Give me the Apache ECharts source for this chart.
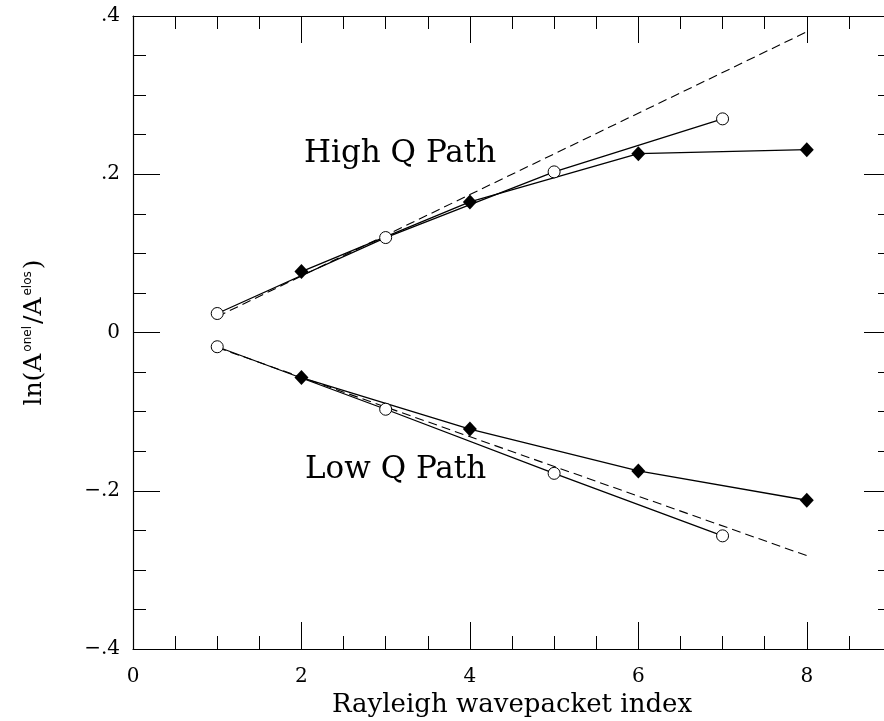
<!DOCTYPE html>
<html>
<head>
<meta charset="utf-8">
<script src="https://cdn.jsdelivr.net/npm/echarts@6/dist/echarts.min.js"></script>
<style>
html,body{margin:0;padding:0;background:#fff;}
#chart{width:884px;height:721px;}
</style>
</head>
<body>
<div id="chart"></div>
<script>
// ---- data ----
const xOdd = [1, 3, 5, 7];
const xEven = [2, 4, 6, 8];
const highCircle = [0.024, 0.120, 0.203, 0.270];
const highDiamond = [0.077, 0.165, 0.226, 0.231];
const lowCircle = [-0.018, -0.097, -0.178, -0.257];
const lowDiamond = [-0.057, -0.122, -0.175, -0.212];
const fitX = [1, 8];
const highFit = [0.020, 0.380];
const lowFit = [-0.019, -0.282];
const xTicksMajor = [0, 2, 4, 6, 8];
const yTickLabels = ['−.4', '−.2', '0', '.2', '.4'];
const annotations = ['High Q Path', 'Low Q Path'];
const xTitle = 'Rayleigh wavepacket index';

function pairs(xs, ys) { return xs.map((x, i) => [x, ys[i]]); }
function yFmt(v) {
  const idx = Math.round((v + 0.4) / 0.2);
  return yTickLabels[idx] !== undefined ? yTickLabels[idx] : '';
}

const SERIF = '"DejaVu Serif", "Liberation Serif", serif';
const lineCol = '#000';

const chart = echarts.init(document.getElementById('chart'), null, {renderer: 'canvas'});

const axLine = {show: true, onZero: false, lineStyle: {color: '#000', width: 1.2}};
const noLine = {show: false, onZero: false};

const option = {
  backgroundColor: '#fff',
  animation: false,
  grid: {left: 133, top: 16, width: 758, height: 633, containLabel: false, outerBoundsMode: 'none'},
  xAxis: [
    { // bottom major
      type: 'value', position: 'bottom', min: 0, max: 9, interval: 2,
      axisLine: axLine,
      axisTick: {show: true, inside: true, length: 27, lineStyle: {color: '#000', width: 1}},
      axisLabel: {show: true, margin: 18, showMaxLabel: false, fontFamily: SERIF, fontSize: 20, color: '#000',
        formatter: v => (xTicksMajor.indexOf(v) >= 0 ? String(v) : '')},
      splitLine: {show: false},
      name: xTitle, nameLocation: 'middle', nameGap: 43,
      nameTextStyle: {fontFamily: SERIF, fontSize: 26, color: '#000'}
    },
    { // bottom minor
      type: 'value', position: 'bottom', min: 0, max: 9, interval: 0.5,
      axisLine: noLine,
      axisTick: {show: true, inside: true, length: 13, lineStyle: {color: '#000', width: 1}},
      axisLabel: {show: false}, splitLine: {show: false}
    },
    { // top major
      type: 'value', position: 'top', min: 0, max: 9, interval: 2,
      axisLine: axLine,
      axisTick: {show: true, inside: true, length: 27, lineStyle: {color: '#000', width: 1}},
      axisLabel: {show: false}, splitLine: {show: false}
    },
    { // top minor
      type: 'value', position: 'top', min: 0, max: 9, interval: 0.5,
      axisLine: noLine,
      axisTick: {show: true, inside: true, length: 13, lineStyle: {color: '#000', width: 1}},
      axisLabel: {show: false}, splitLine: {show: false}
    }
  ],
  yAxis: [
    {
      type: 'value', position: 'left', min: -0.4, max: 0.4, interval: 0.2,
      axisLine: axLine,
      axisTick: {show: true, inside: true, length: 27, lineStyle: {color: '#000', width: 1}},
      minorTick: {show: true, splitNumber: 4, length: 13, lineStyle: {color: '#000', width: 1}},
      axisLabel: {show: true, margin: 13, fontFamily: SERIF, fontSize: 20, color: '#000', formatter: yFmt},
      splitLine: {show: false}, minorSplitLine: {show: false},
      name: '{m|ln(A}{s|onel}{m|/A}{s|elos}{m|)}',
      nameLocation: 'middle', nameRotate: 90, nameGap: 86,
      nameTextStyle: {
        color: '#000',
        rich: {
          m: {fontFamily: SERIF, fontSize: 25, color: '#000'},
          s: {fontFamily: '"DejaVu Sans", sans-serif', fontSize: 12, color: '#000', verticalAlign: 'top', padding: [0, 2, 0, 2]}
        }
      }
    },
    {
      type: 'value', position: 'right', min: -0.4, max: 0.4, interval: 0.2,
      axisLine: axLine,
      axisTick: {show: true, inside: true, length: 27, lineStyle: {color: '#000', width: 1}},
      minorTick: {show: true, splitNumber: 4, length: 13, lineStyle: {color: '#000', width: 1}},
      axisLabel: {show: false}, splitLine: {show: false}, minorSplitLine: {show: false}
    }
  ],
  graphic: [
    {type: 'text', left: 304, top: 138, style: {text: annotations[0], font: '31px ' + SERIF, fill: '#000'}},
    {type: 'text', left: 305, top: 454, style: {text: annotations[1], font: '31px ' + SERIF, fill: '#000'}}
  ],
  series: [
    {type: 'line', name: 'high fit', data: pairs(fitX, highFit), symbol: 'none', silent: true,
      lineStyle: {color: lineCol, width: 1.1, type: [9, 5]}},
    {type: 'line', name: 'low fit', data: pairs(fitX, lowFit), symbol: 'none', silent: true,
      lineStyle: {color: lineCol, width: 1.1, type: [9, 5]}},
    {type: 'line', name: 'high diamond', data: pairs(xEven, highDiamond), symbol: 'diamond', symbolSize: [14, 15],
      itemStyle: {color: '#000'}, lineStyle: {color: lineCol, width: 1.3}},
    {type: 'line', name: 'low diamond', data: pairs(xEven, lowDiamond), symbol: 'diamond', symbolSize: [14, 15],
      itemStyle: {color: '#000'}, lineStyle: {color: lineCol, width: 1.3}},
    {type: 'line', name: 'high circle', data: pairs(xOdd, highCircle), symbol: 'circle', symbolSize: 12,
      itemStyle: {color: '#fff', borderColor: '#000', borderWidth: 1}, lineStyle: {color: lineCol, width: 1.3}},
    {type: 'line', name: 'low circle', data: pairs(xOdd, lowCircle), symbol: 'circle', symbolSize: 12,
      itemStyle: {color: '#fff', borderColor: '#000', borderWidth: 1}, lineStyle: {color: lineCol, width: 1.3}}
  ]
};
chart.setOption(option);
</script>
</body>
</html>
